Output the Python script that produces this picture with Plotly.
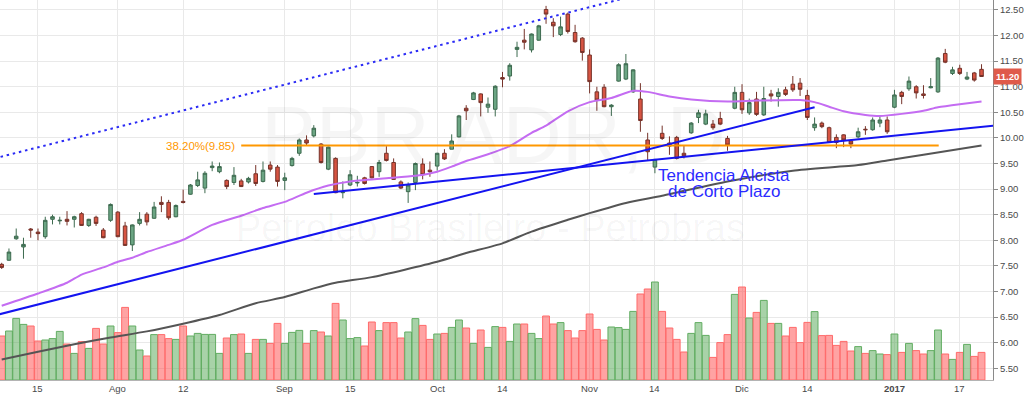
import plotly.graph_objects as go

# ---------------- data ----------------
dates = [
    "2016-07-08", "2016-07-11", "2016-07-12", "2016-07-13", "2016-07-14", "2016-07-15", "2016-07-18", "2016-07-19",
    "2016-07-20", "2016-07-21", "2016-07-22", "2016-07-25", "2016-07-26", "2016-07-27", "2016-07-28", "2016-07-29",
    "2016-08-01", "2016-08-02", "2016-08-03", "2016-08-04", "2016-08-05", "2016-08-08", "2016-08-09", "2016-08-10",
    "2016-08-11", "2016-08-12", "2016-08-15", "2016-08-16", "2016-08-17", "2016-08-18", "2016-08-19", "2016-08-22",
    "2016-08-23", "2016-08-24", "2016-08-25", "2016-08-26", "2016-08-29", "2016-08-30", "2016-08-31",
    "2016-09-01", "2016-09-02", "2016-09-06", "2016-09-07", "2016-09-08", "2016-09-09", "2016-09-12", "2016-09-13",
    "2016-09-14", "2016-09-15", "2016-09-16", "2016-09-19", "2016-09-20", "2016-09-21", "2016-09-22", "2016-09-23",
    "2016-09-26", "2016-09-27", "2016-09-28", "2016-09-29", "2016-09-30",
    "2016-10-03", "2016-10-04", "2016-10-05", "2016-10-06", "2016-10-07", "2016-10-10", "2016-10-11", "2016-10-12",
    "2016-10-13", "2016-10-14", "2016-10-17", "2016-10-18", "2016-10-19", "2016-10-20", "2016-10-21", "2016-10-24",
    "2016-10-25", "2016-10-26", "2016-10-27", "2016-10-28", "2016-10-31",
    "2016-11-01", "2016-11-02", "2016-11-03", "2016-11-04", "2016-11-07", "2016-11-08", "2016-11-09", "2016-11-10",
    "2016-11-11", "2016-11-14", "2016-11-15", "2016-11-16", "2016-11-17", "2016-11-18", "2016-11-21", "2016-11-22",
    "2016-11-23", "2016-11-25", "2016-11-28", "2016-11-29", "2016-11-30",
    "2016-12-01", "2016-12-02", "2016-12-05", "2016-12-06", "2016-12-07", "2016-12-08", "2016-12-09", "2016-12-12",
    "2016-12-13", "2016-12-14", "2016-12-15", "2016-12-16", "2016-12-19", "2016-12-20", "2016-12-21", "2016-12-22",
    "2016-12-23", "2016-12-27", "2016-12-28", "2016-12-29", "2016-12-30",
    "2017-01-03", "2017-01-04", "2017-01-05", "2017-01-06", "2017-01-09", "2017-01-10", "2017-01-11", "2017-01-12",
    "2017-01-13", "2017-01-17", "2017-01-18", "2017-01-19", "2017-01-20",
]

opens = [
    7.53, 7.61, 8.03, 7.87, 8.22, 8.16, 8.07, 8.41, 8.38, 8.41, 8.41, 8.52, 8.29, 8.45, 8.20, 8.39,
    8.55, 8.28, 7.91, 8.33, 8.51, 8.43, 8.74, 8.74, 8.46, 8.76, 8.90, 9.07, 9.02, 9.42, 9.34, 9.17,
    9.13, 9.16, 9.14, 9.30, 9.15, 9.47, 9.43, 9.17, 9.46, 9.70, 9.96, 10.04, 9.88, 9.39, 9.60, 8.93,
    9.08, 9.12, 9.22, 9.44, 9.34, 9.70, 9.52, 9.14, 8.95, 9.13, 9.49, 9.37, 9.45, 9.70, 9.78, 10.02,
    10.58, 10.75, 10.86, 10.60, 10.56, 11.18, 11.21, 11.73, 11.91, 11.72, 11.91, 12.51, 12.26, 12.02,
    12.42, 12.06, 11.95, 11.62, 10.90, 10.99, 10.61, 11.11, 11.15, 10.90, 10.76, 9.96, 9.43, 10.09,
    9.90, 10.01, 9.70, 10.10, 10.40, 10.27, 10.27, 10.38, 9.99, 10.58, 10.89, 10.49, 10.76, 10.45,
    10.86, 10.81, 10.94, 11.05, 11.07, 10.83, 10.20, 10.29, 10.20, 10.01, 10.06, 9.94, 10.02, 10.17,
    10.16, 10.29, 10.35, 10.60, 10.89, 10.96, 11.00, 10.86, 10.98, 10.90, 11.65, 11.26, 11.36, 11.15,
    11.27, 11.34,
]
highs = [
    7.56, 7.84, 8.23, 8.05, 8.24, 8.23, 8.46, 8.50, 8.46, 8.57, 8.48, 8.55, 8.42, 8.48, 8.24, 8.72,
    8.57, 8.36, 8.31, 8.55, 8.55, 8.75, 8.86, 8.79, 8.70, 8.99, 9.10, 9.34, 9.35, 9.54, 9.52, 9.19,
    9.43, 9.20, 9.24, 9.47, 9.54, 9.54, 9.47, 9.32, 9.63, 9.99, 10.05, 10.25, 9.90, 9.83, 9.62, 9.15,
    9.37, 9.26, 9.24, 9.45, 9.57, 9.84, 9.60, 9.17, 9.13, 9.52, 9.60, 9.54, 9.71, 9.78, 10.07, 10.45,
    10.64, 10.90, 10.87, 10.79, 11.03, 11.29, 11.46, 11.88, 12.13, 12.04, 12.21, 12.58, 12.34, 12.37,
    12.45, 12.21, 11.97, 11.73, 11.00, 11.05, 10.66, 11.46, 11.64, 11.34, 11.07, 10.10, 9.59, 10.24,
    10.03, 10.04, 9.86, 10.31, 10.55, 10.55, 10.35, 10.51, 10.04, 11.00, 11.05, 10.77, 10.90, 11.00,
    10.94, 10.97, 11.00, 11.21, 11.17, 10.94, 10.40, 10.32, 10.22, 10.07, 10.07, 9.97, 10.20, 10.23,
    10.40, 10.43, 10.42, 10.94, 10.92, 11.20, 11.03, 11.03, 11.17, 11.58, 11.74, 11.39, 11.43, 11.29,
    11.29, 11.44,
]
lows = [
    7.44, 7.60, 8.01, 7.64, 8.05, 8.00, 8.03, 8.31, 8.31, 8.29, 8.25, 8.28, 8.26, 8.28, 8.04, 8.36,
    8.06, 7.89, 7.79, 8.29, 8.29, 8.42, 8.55, 8.40, 8.45, 8.72, 8.89, 9.04, 8.92, 9.35, 9.31, 9.00,
    9.08, 9.04, 9.11, 9.06, 9.13, 9.34, 9.05, 8.98, 9.44, 9.65, 9.86, 10.01, 9.50, 9.37, 8.92, 8.82,
    9.06, 9.05, 9.09, 9.21, 9.24, 9.54, 9.18, 9.00, 8.73, 8.98, 9.19, 9.24, 9.36, 9.57, 9.78, 10.01,
    10.35, 10.74, 10.42, 10.49, 10.42, 10.99, 11.12, 11.58, 11.73, 11.67, 11.90, 12.23, 11.97, 11.99,
    12.04, 11.86, 11.51, 10.87, 10.53, 10.60, 10.43, 11.10, 11.13, 10.88, 10.12, 9.55, 9.31, 9.96,
    9.67, 9.58, 9.60, 10.08, 10.29, 10.25, 10.16, 10.25, 9.75, 10.56, 10.47, 10.45, 10.43, 10.43,
    10.71, 10.61, 10.82, 10.90, 10.82, 10.35, 10.14, 10.19, 9.90, 9.80, 9.82, 9.80, 9.99, 10.06,
    10.14, 10.21, 10.08, 10.58, 10.66, 10.92, 10.77, 10.77, 10.97, 10.88, 11.46, 11.23, 11.23, 11.13,
    11.10, 11.20,
]
closes = [
    7.47, 7.77, 8.08, 7.92, 8.20, 8.13, 8.39, 8.46, 8.39, 8.37, 8.46, 8.29, 8.41, 8.33, 8.05, 8.70,
    8.07, 7.90, 8.30, 8.41, 8.36, 8.65, 8.70, 8.44, 8.68, 8.74, 9.08, 9.18, 9.31, 9.45, 9.44, 9.05,
    9.27, 9.05, 9.21, 9.11, 9.37, 9.39, 9.15, 9.22, 9.60, 9.96, 9.90, 10.19, 9.52, 9.82, 8.93, 8.94,
    9.28, 9.13, 9.11, 9.22, 9.52, 9.56, 9.19, 9.02, 9.08, 9.50, 9.28, 9.34, 9.70, 9.59, 9.94, 10.43,
    10.53, 10.88, 10.69, 10.66, 11.01, 11.15, 11.42, 11.77, 11.87, 12.03, 12.19, 12.42, 12.19, 12.17,
    12.08, 11.88, 11.67, 11.10, 10.74, 10.61, 10.64, 11.43, 11.45, 11.33, 10.34, 9.73, 9.58, 9.99,
    9.84, 9.60, 9.65, 10.29, 10.49, 10.47, 10.20, 10.27, 9.86, 10.89, 10.55, 10.69, 10.46, 10.77,
    10.82, 10.89, 10.85, 10.94, 10.95, 10.40, 10.27, 10.22, 9.91, 9.91, 9.96, 9.88, 10.12, 10.16,
    10.35, 10.35, 10.12, 10.84, 10.81, 11.11, 10.88, 10.83, 11.00, 11.56, 11.48, 11.33, 11.26, 11.19,
    11.13, 11.20,
]
# volume in millions of shares
volumes = [
    22.0, 24.5, 30.8, 27.8, 27.0, 19.5, 20.0, 20.7, 24.3, 18.0, 13.3, 19.2, 15.8, 25.8, 18.0, 27.0,
    23.7, 36.3, 27.0, 15.0, 12.0, 22.7, 22.7, 20.7, 20.3, 27.0, 22.0, 23.3, 22.8, 22.8, 13.3, 21.0,
    22.7, 23.0, 13.3, 20.3, 20.3, 18.3, 28.3, 18.3, 23.8, 24.8, 18.3, 24.7, 24.0, 22.0, 38.3, 30.0,
    20.7, 21.2, 17.0, 29.0, 24.7, 28.7, 28.7, 21.0, 24.0, 30.7, 27.3, 20.3, 23.0, 23.3, 26.3, 30.0,
    26.0, 18.3, 25.0, 16.3, 26.7, 26.3, 19.3, 28.0, 28.0, 23.3, 20.7, 32.0, 28.0, 28.7, 24.7, 21.0,
    24.7, 33.0, 25.3, 20.0, 26.5, 26.2, 25.3, 34.3, 43.0, 45.5, 49.0, 34.3, 26.0, 20.3, 14.0, 23.3,
    28.7, 22.3, 11.3, 18.7, 22.7, 42.8, 46.5, 31.0, 33.8, 39.8, 28.3, 28.3, 22.0, 26.3, 18.7, 28.8,
    34.2, 22.2, 22.3, 17.3, 19.3, 14.5, 16.7, 13.3, 14.7, 13.0, 12.7, 23.0, 13.8, 18.3, 14.7, 13.0,
    14.7, 25.0, 13.0, 10.3, 13.8, 17.8, 11.8, 13.8,
]

# moving averages (position in the date list, value)
ma_fast_pos = [0, 5, 9, 11, 14, 16, 18, 20, 23, 25, 29, 33, 36, 39, 42, 45, 48, 53, 57, 60, 62, 64, 67,
               70, 73, 75, 78, 81, 84, 87, 89, 92, 95, 100, 104, 110, 112, 114, 116, 119, 121, 124,
               127, 129, 132, 135]
ma_fast = [6.72, 6.96, 7.17, 7.33, 7.47, 7.58, 7.66, 7.77, 7.91, 8.01, 8.30, 8.48, 8.63, 8.75, 8.93,
           9.07, 9.15, 9.21, 9.26, 9.34, 9.44, 9.55, 9.68, 9.84, 10.10, 10.24, 10.52, 10.70, 10.78,
           10.92, 10.90, 10.81, 10.75, 10.71, 10.73, 10.74, 10.70, 10.61, 10.52, 10.45, 10.43, 10.47,
           10.53, 10.60, 10.66, 10.71]
ma_slow_pos = [0, 5, 10, 15, 20, 25, 30, 35, 39, 43, 46, 51, 60, 64, 69, 73, 78, 81, 86, 91, 100,
               109, 118, 122, 127, 135]
ma_slow = [5.67, 5.82, 5.97, 6.10, 6.22, 6.37, 6.54, 6.77, 6.89, 7.06, 7.17, 7.28, 7.58, 7.75, 7.94,
           8.17, 8.40, 8.53, 8.73, 8.87, 9.15, 9.36, 9.47, 9.56, 9.67, 9.85]

# hand-drawn lines (anchor positions in the date list, prices)
trend_long_pos = [-1.0, 112.0]
trend_long_val = [6.53, 10.60]
trend_short_pos = [43.0, 138.0]
trend_short_val = [8.905, 10.26]
channel_pos = [-1.0, 100.0]
channel_val = [9.60, 13.24]
fib_pos = [33.0, 129.1]
fib_level = 9.85
fib_label = "38.20%(9.85)"
last_price = 11.20

tick_dates = ["2016-07-15", "2016-08-01", "2016-08-12", "2016-09-01", "2016-09-15", "2016-10-03",
              "2016-10-14", "2016-11-01", "2016-11-14", "2016-12-01", "2016-12-14", "2017-01-03",
              "2017-01-17"]
tick_text = ["15", "Ago", "12", "Sep", "15", "Oct", "14", "Nov", "14", "Dic", "14", "<b>2017</b>", "17"]
price_ticks = [5.5, 6.0, 6.5, 7.0, 7.5, 8.0, 8.5, 9.0, 9.5, 10.0, 10.5, 11.0, 11.5, 12.0, 12.5]
price_tick_text = ["5.50", "6.00", "6.50", "7.00", "7.50", "8.00", "8.50", "9.00", "9.50", "10.00",
                   "10.50", "11.00", "11.50", "12.00", "12.50"]

# ---------------- figure ----------------
pos = list(range(len(dates)))
up = [c >= o for o, c in zip(opens, closes)]
vol_fill = ["rgba(88,168,88,0.52)" if u else "rgba(255,72,72,0.5)" for u in up]
vol_line = ["#62ad62" if u else "#ff6b6b" for u in up]

FONT = "Liberation Sans, Arial, sans-serif"
fig = go.Figure()

fig.add_trace(go.Bar(
    x=pos, y=volumes, yaxis="y", width=0.94,
    marker=dict(color=vol_fill, line=dict(color=vol_line, width=1)),
    hovertext=dates, showlegend=False,
))

fig.add_trace(go.Scatter(x=ma_slow_pos, y=ma_slow, yaxis="y2", mode="lines",
                         line=dict(color="#555555", width=2, shape="spline", smoothing=0.6),
                         hoverinfo="skip", showlegend=False))
fig.add_trace(go.Scatter(x=ma_fast_pos, y=ma_fast, yaxis="y2", mode="lines",
                         line=dict(color="#c46cf2", width=2, shape="spline", smoothing=0.6),
                         hoverinfo="skip", showlegend=False))
fig.add_trace(go.Scatter(x=fib_pos, y=[fib_level, fib_level], yaxis="y2", mode="lines",
                         line=dict(color="#ff9800", width=2), hoverinfo="skip", showlegend=False))
fig.add_trace(go.Scatter(x=trend_long_pos, y=trend_long_val, yaxis="y2", mode="lines",
                         line=dict(color="#1414f0", width=2), hoverinfo="skip", showlegend=False))
fig.add_trace(go.Scatter(x=trend_short_pos, y=trend_short_val, yaxis="y2", mode="lines",
                         line=dict(color="#1414f0", width=2), hoverinfo="skip", showlegend=False))
fig.add_trace(go.Scatter(x=channel_pos, y=channel_val, yaxis="y2", mode="lines",
                         line=dict(color="#2a2af5", width=2, dash="2.5px,3.8px"),
                         hoverinfo="skip", showlegend=False))

fig.add_trace(go.Candlestick(
    x=pos, open=opens, high=highs, low=lows, close=closes, yaxis="y2",
    increasing=dict(fillcolor="#6ba583", line=dict(color="#3d6a4f", width=1)),
    decreasing=dict(fillcolor="#d75442", line=dict(color="#76332a", width=1)),
    whiskerwidth=0, hovertext=dates, showlegend=False,
))

tickvals = [dates.index(d) for d in tick_dates]

fig.update_layout(
    width=1024, height=396,
    margin=dict(l=0, r=28, t=0, b=16),
    paper_bgcolor="white", plot_bgcolor="white",
    font=dict(family=FONT, size=9, color="#4a4a4a"),
    showlegend=False, boxgap=0.3,
    xaxis=dict(range=[-0.234, 136.58], tickvals=tickvals, showticklabels=False,
               showgrid=True, gridcolor="#e9e9e9", gridwidth=1, zeroline=False,
               showline=True, linecolor="#b4b4b4", linewidth=1, ticks="",
               rangeslider=dict(visible=False), fixedrange=True),
    yaxis=dict(range=[0, 190], visible=False, showgrid=False, zeroline=False, fixedrange=True),
    yaxis2=dict(overlaying="y", side="right", range=[5.27, 12.695],
                tickvals=price_ticks, ticktext=price_tick_text,
                showgrid=True, gridcolor="#e9e9e9", gridwidth=1, zeroline=False,
                showline=True, linecolor="#8a8a8a", linewidth=1,
                ticks="outside", ticklen=4, tickcolor="#8a8a8a",
                tickfont=dict(family=FONT, size=9.5, color="#4a4a4a"), fixedrange=True),
)

annotations = [
    dict(text="PBR ADR, D", xref="paper", yref="paper", x=0.497, y=0.645, showarrow=False,
         font=dict(family=FONT, size=82, color="rgba(0,0,0,0.035)"), xanchor="center", yanchor="middle"),
    dict(text="Petroleo Brasileiro - Petrobras", xref="paper", yref="paper", x=0.494, y=0.40,
         showarrow=False, font=dict(family=FONT, size=38, color="rgba(0,0,0,0.035)"),
         xanchor="center", yanchor="middle"),
    dict(text=fib_label, xref="paper", yref="y2", x=238 / 996, y=fib_level, showarrow=False,
         xanchor="right", yanchor="middle", font=dict(family=FONT, size=11.5, color="#ff9800")),
    dict(text="Tendencia Alcista", xref="paper", yref="paper", x=0.729, y=0.538, showarrow=False,
         xanchor="center", yanchor="middle", font=dict(family=FONT, size=17, color="#2b2bff")),
    dict(text="de Corto Plazo", xref="paper", yref="paper", x=0.729, y=0.496, showarrow=False,
         xanchor="center", yanchor="middle", font=dict(family=FONT, size=17, color="#2b2bff")),
    dict(text="<b>%.2f</b>" % last_price, xref="paper", yref="y2", x=1.0, y=last_price,
         showarrow=False, xanchor="left", yanchor="middle", bgcolor="#df5a4a",
         font=dict(family=FONT, size=9.5, color="white"), borderpad=2, xshift=0),
]
for tv, tt in zip(tickvals, tick_text):
    annotations.append(dict(text=tt, xref="x", yref="paper", x=tv, y=0, yanchor="top",
                            xanchor="center", showarrow=False, yshift=-1,
                            font=dict(family=FONT, size=9.5, color="#4a4a4a")))
fig.update_layout(annotations=annotations)

fig.write_html("out.html", config={"displayModeBar": False},
               post_script="document.body.style.margin='0px';")
